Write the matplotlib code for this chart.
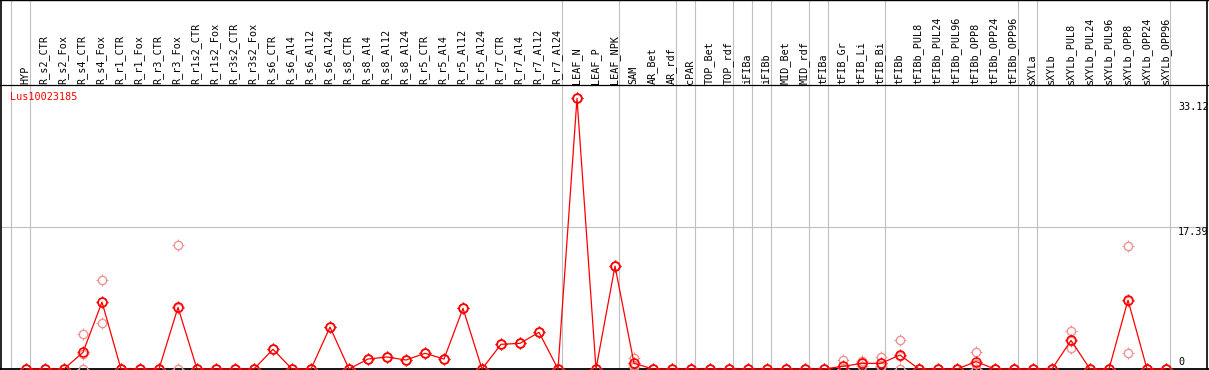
import matplotlib
matplotlib.use("Agg")
import matplotlib.pyplot as plt
import numpy as np
from matplotlib.path import Path

gene = "Lus10023185"

samples = ["HYP", "R_s2_CTR", "R_s2_Fox", "R_s4_CTR", "R_s4_Fox", "R_r1_CTR", "R_r1_Fox",
           "R_r3_CTR", "R_r3_Fox", "R_r1s2_CTR", "R_r1s2_Fox", "R_r3s2_CTR", "R_r3s2_Fox",
           "R_s6_CTR", "R_s6_Al4", "R_s6_Al12", "R_s6_Al24", "R_s8_CTR", "R_s8_Al4",
           "R_s8_Al12", "R_s8_Al24", "R_r5_CTR", "R_r5_Al4", "R_r5_Al12", "R_r5_Al24",
           "R_r7_CTR", "R_r7_Al4", "R_r7_Al12", "R_r7_Al24", "LEAF_N", "LEAF_P", "LEAF_NPK",
           "SAM", "AR_Bet", "AR_rdf", "cPAR", "TOP_Bet", "TOP_rdf", "iFIBa", "iFIBb",
           "MID_Bet", "MID_rdf", "tFIBa", "tFIB_Gr", "tFIB_Li", "tFIB_Bi", "tFIBb",
           "tFIBb_PUL8", "tFIBb_PUL24", "tFIBb_PUL96", "tFIBb_OPP8", "tFIBb_OPP24",
           "tFIBb_OPP96", "sXYLa", "sXYLb", "sXYLb_PUL8", "sXYLb_PUL24", "sXYLb_PUL96",
           "sXYLb_OPP8", "sXYLb_OPP24", "sXYLb_OPP96"]

mean_expr = [0, 0, 0, 2.04, 8.19, 0, 0, 0, 7.54, 0, 0, 0, 0,
             2.41, 0, 0, 5.13, 0, 1.22, 1.47, 1.10, 1.92, 1.22, 7.42, 0,
             3.02, 3.14, 4.49, 0, 33.12, 0, 12.59,
             0.70, 0, 0, 0, 0, 0, 0, 0, 0, 0, 0, 0.33, 0.69, 0.69, 1.71,
             0, 0, 0, 0.90, 0, 0, 0, 0, 3.50, 0, 0, 8.43, 0, 0]

rep_a = [0, 0, 0, 4.24, 10.84, 0, 0, 0, 15.12, 0, 0, 0, 0,
         2.41, 0, 0, 5.13, 0, 1.22, 1.47, 1.10, 1.92, 1.22, 7.42, 0,
         3.02, 3.14, 4.49, 0, 33.12, 0, 12.59,
         1.30, 0, 0, 0, 0, 0, 0, 0, 0, 0, 0, 1.10, 1.02, 1.50, 3.55,
         0, 0, 0, 2.04, 0, 0, 0, 0, 4.60, 0, 0, 15.04, 0, 0]

rep_b = [0, 0, 0, 0, 5.59, 0, 0, 0, 0, 0, 0, 0, 0,
         2.41, 0, 0, 5.13, 0, 1.22, 1.47, 1.10, 1.92, 1.22, 7.42, 0,
         3.02, 3.14, 4.49, 0, 33.12, 0, 12.59,
         0.50, 0, 0, 0, 0, 0, 0, 0, 0, 0, 0, 0, 0.37, 0.37, 0,
         0, 0, 0, 0, 0, 0, 0, 0, 2.53, 0, 0, 1.92, 0, 0]

rep_c = [0, 0, 0, 1.88, 8.14, 0, 0, 0, 7.50, 0, 0, 0, 0,
         2.41, 0, 0, 5.13, 0, 1.22, 1.47, 1.10, 1.92, 1.22, 7.42, 0,
         3.02, 3.14, 4.49, 0, 33.12, 0, 12.59,
         0.30, 0, 0, 0, 0, 0, 0, 0, 0, 0, 0, 0, 0.68, 0.20, 1.58,
         0, 0, 0, 0.66, 0, 0, 0, 0, 3.37, 0, 0, 8.33, 0, 0]

group_starts = [0, 1, 29, 32, 35, 36, 38, 39, 40, 42, 43, 46, 53, 54, 61]

y_max_label = "33.12"
y_mid_value = 17.39
y_mid_label = "17.39"
y_zero_label = "0"

# ---- pixel geometry helpers ----
W, H = 1209, 370
x0_px, dx_px = 26.0, 19.0
zero_px = 369.0
k = (zero_px - 98.3) / 33.12


def xv(px):
    return (px - x0_px) / dx_px


def yv(py):
    return (zero_px - py) / k


fig = plt.figure(figsize=(W / 100, H / 100), dpi=100)
ax = fig.add_axes([0, 0, 1, 1])
ax.set_xlim(xv(0), xv(W))
ax.set_ylim(yv(H), yv(0))
ax.axis("off")

mono = "DejaVu Sans Mono"
fs = 7.3

# gray group separators
for g in group_starts:
    ax.axvline(g - 15.0 / 19.0, color="#c0c0c0", lw=0.8, zorder=1)

# horizontal grid at mid value
ax.plot([xv(1), xv(1207)], [y_mid_value, y_mid_value], color="#c0c0c0", lw=0.8, zorder=1)

# frame lines
ax.axhline(yv(85), color="black", lw=0.9, zorder=2)
ax.axhline(yv(0.4), color="black", lw=1.0, zorder=2)
ax.axhline(0, color="black", lw=1.3, zorder=2)
ax.axvline(xv(1.2), color="black", lw=1.2, zorder=2)
ax.axvline(xv(1207.2), color="black", lw=1.2, zorder=2)

# header labels
x = np.arange(len(samples))
for i, s in enumerate(samples):
    ax.text(i - 0.05, yv(83.5), s, rotation=90, ha="center", va="bottom",
            fontsize=fs, family=mono, color="black")

# tick-only marker (four short strokes around the circle)
segs = []
for (a, b) in [((0, 0.72), (0, 1.0)), ((0, -0.72), (0, -1.0)),
               ((0.72, 0), (1.0, 0)), ((-0.72, 0), (-1.0, 0))]:
    segs.append(Path([a, b], [Path.MOVETO, Path.LINETO]))
tick_marker = Path.make_compound_path(*segs)

pink = "#ee9494"
for reps in (rep_a, rep_b, rep_c):
    ax.plot(x, reps, linestyle="none", marker="o", markersize=6.0,
            markerfacecolor="none", markeredgecolor=pink, markeredgewidth=1.0, zorder=3)
    ax.plot(x, reps, linestyle="none", marker=tick_marker, markersize=8.6,
            markerfacecolor="none", markeredgecolor=pink, markeredgewidth=0.8, zorder=3)

ax.plot(x, mean_expr, color="red", lw=0.9, zorder=4)
ax.plot(x, mean_expr, linestyle="none", marker="o", markersize=6.4,
        markerfacecolor="none", markeredgecolor="red", markeredgewidth=1.2, zorder=5)
ax.plot(x, mean_expr, linestyle="none", marker=tick_marker, markersize=9.0,
        markerfacecolor="none", markeredgecolor="red", markeredgewidth=0.9, zorder=5)

# gene name
ax.text(xv(10), yv(97.5), gene, ha="left", va="center", fontsize=fs, family=mono, color="red")

# right-side value labels
ax.text(xv(1178), yv(107.5), y_max_label, ha="left", va="center", fontsize=fs, family=mono, color="black")
ax.text(xv(1178), yv(232), y_mid_label, ha="left", va="center", fontsize=fs, family=mono, color="black")
ax.text(xv(1178), yv(362), y_zero_label, ha="left", va="center", fontsize=fs, family=mono, color="black")

fig.savefig("out.png", dpi=100)
